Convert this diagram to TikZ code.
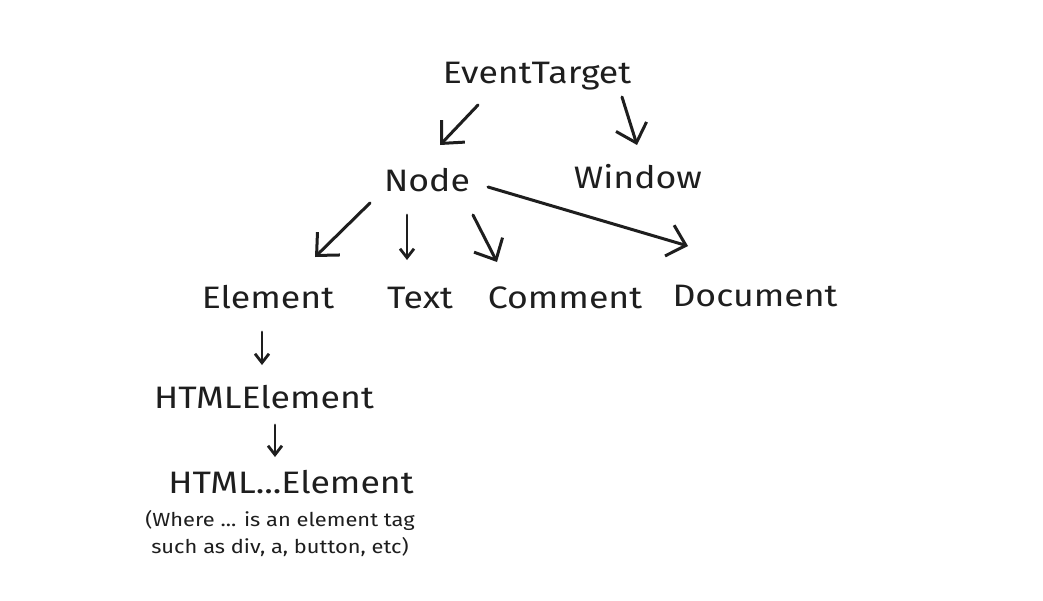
\documentclass[tikz,border=0pt]{standalone}
\usepackage{fontspec}
\setmainfont{Fira Sans}[FakeStretch=1.15]
\usetikzlibrary{arrows.meta}
\definecolor{ink}{HTML}{1E1E1E}
\begin{document}
\begin{tikzpicture}[x=1pt,y=-1pt,
  lbl/.style={font=\fontsize{31}{36}\selectfont, text=ink, inner sep=0pt, anchor=base},
  notecap/.style={font=\fontsize{19}{27}\selectfont, text=ink, inner sep=0pt, align=center},
  arr/.style={draw=ink, line width=3pt, line cap=round, -{Straight Barb[length=17pt,width=32pt,line width=3pt]}},
  sarr/.style={draw=ink, line width=2.8pt, line cap=round, -{Straight Barb[length=9pt,width=14pt,line width=2.8pt]}}]
\fill[white] (0,0) rectangle (1043,600);
\useasboundingbox (0,0) rectangle (1043,600);
\node[lbl] (et) at (537,83) {EventTarget};
\node[lbl] (nd) at (427,191) {Node};
\node[lbl] (wi) at (638,188) {Window};
\node[lbl] (el) at (268,308) {Element};
\node[lbl] (tx) at (420,308) {Text};
\node[lbl] (cm) at (565,308) {Comment};
\node[lbl] (dc) at (755,306) {Document};
\node[lbl] (he) at (264,408) {HTMLElement};
\node[lbl] (hx) at (291,493) {HTML...Element};
\node[notecap] (nt) at (280,534) {(Where ... is an element tag\\such as div, a, button, etc)};
\draw[arr] ([xshift=-59pt,yshift=-22pt]et.base) -- ([xshift=13pt,yshift=46pt]nd.base);
\draw[arr] ([xshift=85pt,yshift=-14pt]et.base) -- ([xshift=-1pt,yshift=43pt]wi.base);
\draw[arr] ([xshift=-57pt,yshift=-12pt]nd.base) -- ([xshift=47pt,yshift=51pt]el.base);
\draw[sarr] ([xshift=-20pt,yshift=-24pt]nd.base) -- ([xshift=-13pt,yshift=48pt]tx.base);
\draw[arr] ([xshift=46pt,yshift=-24pt]nd.base) -- ([xshift=-68pt,yshift=46pt]cm.base);
\draw[arr] ([xshift=61pt,yshift=4pt]nd.base) -- ([xshift=-67pt,yshift=60pt]dc.base);
\draw[sarr] ([xshift=-6pt,yshift=-24pt]el.base) -- ([xshift=-2pt,yshift=43pt]he.base);
\draw[sarr] ([xshift=11pt,yshift=-17pt]he.base) -- ([xshift=-16pt,yshift=36pt]hx.base);
\end{tikzpicture}
\end{document}
